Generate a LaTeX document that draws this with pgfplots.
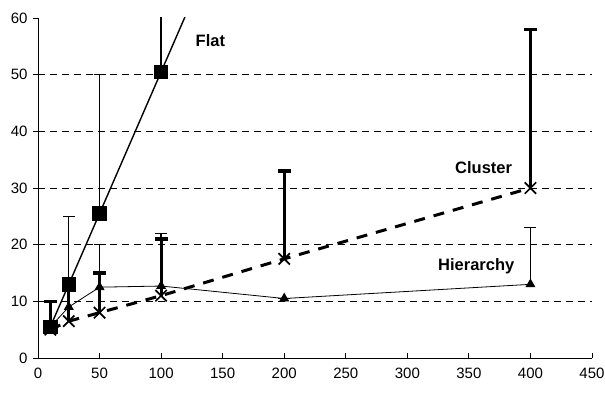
\documentclass[border=0pt]{standalone}
\usepackage{pgfplots}
\pgfplotsset{compat=1.18}
\usepackage{fontspec}
\setmainfont{Liberation Sans}
\begin{document}
\begin{tikzpicture}
\begin{axis}[
  scale only axis, width=554pt, height=340pt,
  xmin=0, xmax=450, ymin=0, ymax=60,
  axis x line*=bottom, axis y line*=left,
  axis line style={black, line width=0.9pt},
  xtick={0,50,...,450}, ytick={0,10,...,60},
  xtick align=inside, ytick align=outside,
  major tick length=5pt,
  tick style={black, line width=0.9pt},
  tick label style={font=\fontsize{15}{16}\selectfont},
  yticklabel style={xshift=-2pt},
  xticklabel style={yshift=-6pt},
  extra y ticks={10,20,30,40,50},
  extra y tick labels={},
  extra y tick style={ymajorgrids=true, major tick length=0pt},
  grid style={black, dashed, line width=0.7pt, dash pattern=on 7pt off 5pt},
  clip=true,
  error bars/y dir=plus, error bars/y explicit,
  /pgf/number format/assume math mode=true,
]
% Flat
\addplot[black, line width=1.4pt, mark=square*, mark size=6.5pt,
  error bars/error bar style={line width=1.4pt},
  error bars/error mark options={rotate=90, mark size=6pt, line width=1.4pt}]
  coordinates {(10,5.5) +- (0,4.5) (25,13) +- (0,12) (50,25.5) +- (0,24.5) (100,50.5) +- (0,30) (200,100.5) +- (0,0)};
% Hierarchy
\addplot[black, line width=0.8pt, mark=triangle*, mark size=5pt,
  error bars/error bar style={line width=1.3pt},
  error bars/error mark options={rotate=90, mark size=6pt, line width=1.3pt}]
  coordinates {(10,5.5) +- (0,0) (25,9) +- (0,3) (50,12.5) +- (0,7.5) (100,12.7) +- (0,9.3) (200,10.5) +- (0,0) (400,13) +- (0,10)};
% Cluster
\addplot[black, line width=3pt, dash pattern=on 11pt off 9pt, mark=x, mark size=8pt,
  mark options={solid, line width=1.7pt},
  error bars/error bar style={solid, line width=3.2pt},
  error bars/error mark options={solid, rotate=90, mark size=6.5pt, line width=3.2pt}]
  coordinates {(10,5) +- (0,5) (25,6.5) +- (0,6) (50,8) +- (0,7) (100,11) +- (0,10) (200,17.5) +- (0,15.5) (400,30) +- (0,28)};
\node[font=\fontsize{16.5}{18}\selectfont\bfseries] at (axis cs:140,56) {Flat};
\node[font=\fontsize{16.5}{18}\selectfont\bfseries] at (axis cs:362,33.6) {Cluster};
\node[font=\fontsize{16.5}{18}\selectfont\bfseries] at (axis cs:356,16.2) {Hierarchy};
\end{axis}
\pgfresetboundingbox
\path ([shift={(-38pt,-37pt)}]current axis.south west) rectangle ([shift={(13pt,18pt)}]current axis.north east);
\end{tikzpicture}
\end{document}
